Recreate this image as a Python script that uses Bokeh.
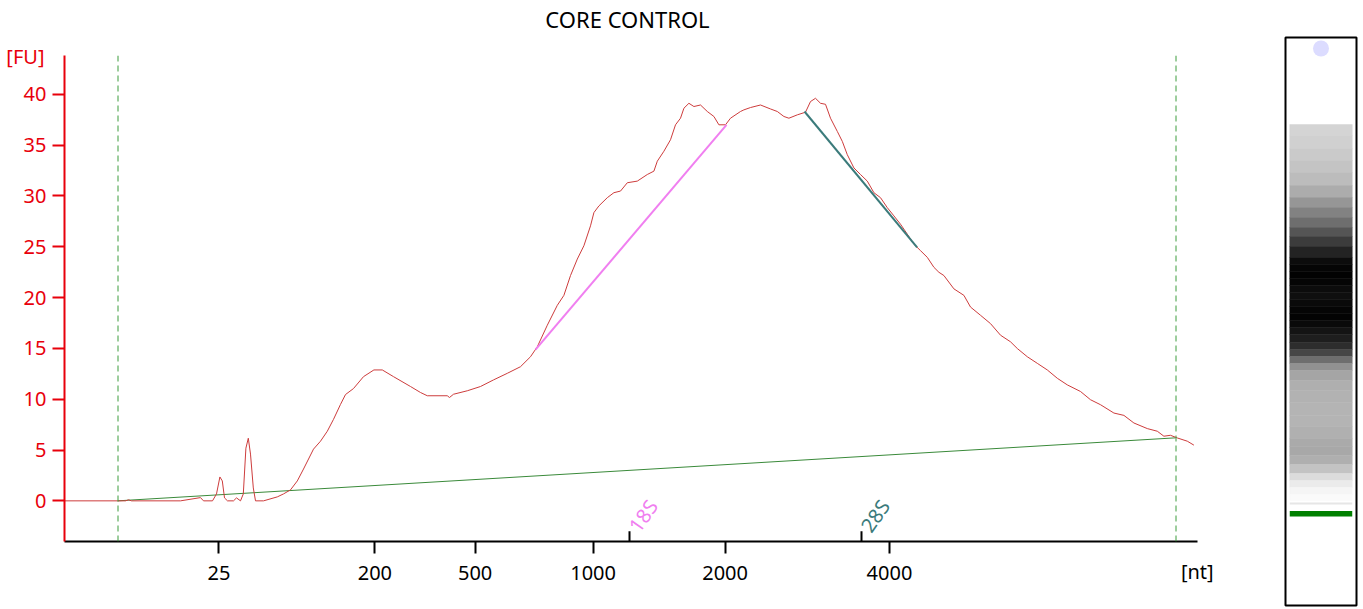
from bokeh.plotting import figure
from bokeh.layouts import row
from bokeh.models import Range1d, FixedTicker, ColumnDataSource, Span, LinearAxis
from bokeh.core.properties import value
from bokeh.embed import file_html
from bokeh.resources import INLINE

# ---------------- data ----------------
title_text = "CORE CONTROL"
y_unit = "[FU]"
x_unit = "[nt]"

# migration time [s] and fluorescence [FU] of the electropherogram trace
time_s = [17.0, 19.65, 20.05, 20.2, 20.35, 22.8, 23.8, 23.95, 24.4, 24.6, 24.77, 24.89, 25.0,
          25.15, 25.45, 25.6, 25.8, 25.94, 26.07, 26.19, 26.3, 26.44, 26.55, 26.95, 27.64,
          27.95, 28.3, 28.64, 28.95, 29.45, 29.8, 30.14, 30.45, 30.8, 31.05, 31.45, 31.95,
          32.47, 32.89, 33.45, 34.3, 34.8, 35.14, 36.14, 36.25, 36.45, 37.14, 37.8, 38.45,
          39.14, 39.8, 40.3, 40.64, 41.14, 41.64, 41.97, 42.3, 42.64, 42.97, 43.3, 43.47,
          43.72, 44.14, 44.47, 44.8, 45.14, 45.64, 46.14, 46.47, 46.64, 46.97, 47.3, 47.55,
          47.8, 47.97, 48.22, 48.47, 48.8, 49.14, 49.47, 49.72, 50.05, 50.3, 50.8, 50.97,
          51.3, 51.8, 52.3, 52.64, 52.97, 53.22, 53.64, 54.05, 54.3, 54.55, 54.8, 55.05,
          55.3, 55.64, 55.89, 56.14, 56.47, 56.8, 57.14, 57.47, 57.8, 58.14, 58.47, 58.8,
          59.14, 59.47, 59.8, 60.14, 60.47, 60.72, 60.97, 61.47, 61.97, 62.3, 62.8, 63.3,
          63.8, 64.3, 64.64, 65.14, 65.64, 66.14, 66.64, 67.14, 67.8, 68.3, 68.8, 69.47,
          69.97, 70.47, 71.14, 71.64, 71.97, 72.3, 72.64, 73.14, 73.47]
fu = [0.0, 0.0, 0.0, 0.1, 0.0, 0.0, 0.32, 0.0, 0.0, 0.68, 2.35, 1.96, 0.29,
      0.0, 0.0, 0.29, 0.0, 0.68, 5.18, 6.16, 4.6, 1.27, 0.0, 0.0, 0.39,
      0.68, 1.08, 1.96, 3.13, 5.09, 5.87, 6.85, 8.02, 9.49, 10.46, 11.05, 12.22,
      12.88, 12.88, 12.22, 11.25, 10.66, 10.34, 10.34, 10.17, 10.49, 10.83, 11.25, 11.9,
      12.55, 13.2, 14.18, 15.16, 17.28, 19.24, 20.22, 22.17, 23.79, 25.1, 27.06, 28.36,
      29.02, 29.83, 30.32, 30.48, 31.3, 31.46, 32.11, 32.44, 33.42, 34.4, 35.53, 37.0,
      37.65, 38.63, 39.12, 38.8, 38.95, 38.31, 37.82, 37.0, 37.0, 37.65, 38.31, 38.47,
      38.7, 38.95, 38.56, 38.31, 37.82, 37.65, 37.98, 38.24, 39.29, 39.61, 39.12, 39.02,
      37.65, 36.35, 35.37, 34.06, 32.76, 32.11, 31.46, 30.32, 29.83, 28.85, 28.04, 27.22,
      26.24, 25.26, 24.62, 23.96, 22.98, 22.49, 22.17, 20.86, 20.22, 19.07, 18.26, 17.44,
      16.3, 15.65, 14.99, 14.18, 13.53, 12.88, 12.06, 11.41, 10.76, 9.95, 9.46, 8.64,
      8.41, 7.66, 7.11, 6.85, 6.36, 6.45, 6.19, 5.87, 5.48]

ladder_nt = ["25", "200", "500", "1000", "2000", "4000"]
ladder_time = [24.72, 32.52, 37.53, 43.43, 50.03, 58.25]
fu_ticks = [0, 5, 10, 15, 20, 25, 30, 35, 40]

marker_names = ["18S", "28S"]
marker_time = [45.25, 56.85]

window_time = [19.675, 72.575]
baseline_time = [19.65, 72.55]
baseline_fu = [0.0, 6.2]
fit18_time = [40.55, 50.1]
fit18_fu = [14.87, 37.0]
fit28_time = [54.0, 59.63]
fit28_fu = [38.31, 24.94]

# gel-like lane: band edges (position from lane top) and grey level of each band
gel_pos = [87, 98, 111, 123, 135, 148, 160, 170, 180, 190, 199, 209, 220, 227, 234, 241, 248,
           255, 262, 269, 276, 283, 290, 297, 305, 312, 319, 326, 333, 343, 353, 365, 378,
           389, 401, 409, 418, 427, 436, 443, 450, 457, 463]
gel_gray = [212, 208, 202, 196, 188, 172, 150, 130, 110, 85, 60, 35, 12, 5, 2, 5, 12,
            15, 10, 5, 3, 10, 20, 30, 45, 70, 110, 145, 165, 175, 178, 180, 180,
            176, 170, 168, 175, 195, 220, 235, 245, 250]
gel_line_pos = [465, 467]
gel_marker_pos = [473.5, 479]
gel_dot_pos = [11]

# ---------------- styles ----------------
FONT = "Noto Sans"
RED = "#e8000b"
TRACE = "#cd3c3c"
PINK = "#f07ff0"
TEAL = "#3b7b7b"
GREEN = "#3a8a3a"
H = 608
X0, X1 = 17.0, 73.65
Y0, Y1 = -4.0, 43.82

p = figure(width=1284, height=H, x_range=Range1d(X0, X1), y_range=Range1d(Y0, Y1),
           output_backend="svg", toolbar_location=None,
           min_border_left=64, min_border_right=87, min_border_top=52, min_border_bottom=H - 52 - 489)
p.outline_line_color = None
p.xgrid.visible = False
p.ygrid.visible = False
if "frame_align" in p.properties():
    p.frame_align = False


def plain_axis(ax, color, size, standoff):
    ax.axis_line_color = None
    ax.major_tick_line_color = None
    ax.minor_tick_line_color = None
    ax.major_tick_out = 0
    ax.major_tick_in = 0
    ax.major_label_standoff = standoff
    ax.major_label_text_font = FONT
    ax.major_label_text_font_size = size
    ax.major_label_text_color = color


# main axes
p.xaxis.ticker = FixedTicker(ticks=ladder_time)
p.xaxis.major_label_overrides = {t: s for t, s in zip(ladder_time, ladder_nt)}
p.xaxis.axis_line_color = "black"
p.xaxis.axis_line_width = 2
p.xaxis.major_tick_line_width = 2
p.xaxis.major_tick_line_color = "black"
p.xaxis.major_tick_out = 12
p.xaxis.major_tick_in = 0
p.xaxis.minor_tick_line_color = None
p.xaxis.major_label_standoff = 12
p.xaxis.major_label_text_font = FONT
p.xaxis.major_label_text_font_size = "20px"
p.xaxis.major_label_text_color = "black"

p.yaxis.ticker = FixedTicker(ticks=fu_ticks)
p.yaxis.axis_line_color = RED
p.yaxis.axis_line_width = 2
p.yaxis.major_tick_line_color = RED
p.yaxis.major_tick_line_width = 2
p.yaxis.major_tick_out = 12
p.yaxis.major_tick_in = 0
p.yaxis.minor_tick_line_color = None
p.yaxis.major_label_standoff = 6
p.yaxis.major_label_text_font = FONT
p.yaxis.major_label_text_font_size = "20px"
p.yaxis.major_label_text_color = RED

# title, written as a label of an axis above the frame
t_pos = 45.15
title_axis = LinearAxis(ticker=FixedTicker(ticks=[t_pos]),
                        major_label_overrides={t_pos: title_text})
plain_axis(title_axis, "black", "22px", 22)
p.add_layout(title_axis, "above")

# unit labels
fu_pos = 43.69
fu_axis = LinearAxis(ticker=FixedTicker(ticks=[fu_pos]), major_label_overrides={fu_pos: y_unit})
plain_axis(fu_axis, RED, "20px", -24)
p.add_layout(fu_axis, "left")

nt_pos = 73.64
nt_axis = LinearAxis(ticker=FixedTicker(ticks=[nt_pos]), major_label_overrides={nt_pos: x_unit})
plain_axis(nt_axis, "black", "20px", -25)
p.add_layout(nt_axis, "below")

# analysis window
for t in window_time:
    p.add_layout(Span(location=t, dimension="height", line_color="#3c9c3c",
                      line_width=1, line_dash="6 4"))

# baseline
p.line(baseline_time, baseline_fu, line_color=GREEN, line_width=1)
# trace
p.line(time_s, fu, line_color=TRACE, line_width=1)
# ratio fit lines
p.line(fit18_time, fit18_fu, line_color=PINK, line_width=2)
p.line(fit28_time, fit28_fu, line_color=TEAL, line_width=2)

# 18S / 28S markers
msrc = ColumnDataSource(dict(x=marker_time, name=marker_names, color=[PINK, TEAL]))
p.segment(x0="x", y0=Y0, x1="x", y1=Y0 + 1.0, source=msrc, line_color="black", line_width=2)
p.text(x="x", y=Y0, text="name", source=msrc, text_color="color", angle=55, angle_units="deg",
       text_font=value(FONT), text_font_size=value("20px"), text_align="left",
       text_baseline="bottom", x_offset=15, y_offset=-4)

# ---------------- gel lane ----------------
g = figure(width=1363 - 1284, height=H, x_range=Range1d(0, 1), y_range=Range1d(H - 37 - 3, 0),
           output_backend="svg", toolbar_location=None,
           x_axis_location=None, y_axis_location=None,
           min_border_left=1, min_border_right=7, min_border_top=37, min_border_bottom=3)
g.xgrid.visible = False
g.ygrid.visible = False
g.outline_line_color = "black"
g.outline_line_width = 2
if "frame_align" in g.properties():
    g.frame_align = False

gcols = ["#%02x%02x%02x" % (v, v, v) for v in gel_gray]
g.quad(left=0.06, right=0.94, top=gel_pos[:-1], bottom=gel_pos[1:], fill_color=gcols,
       line_color=gcols, line_width=0.5)
g.quad(left=0.06, right=0.94, top=[gel_line_pos[0]], bottom=[gel_line_pos[1]],
       fill_color="#e6e6e6", line_color=None)
g.quad(left=0.06, right=0.94, top=[gel_marker_pos[0]], bottom=[gel_marker_pos[1]],
       fill_color="#008000", line_color=None)
g.scatter(x=[0.5], y=gel_dot_pos, size=16, marker="circle", fill_color="#dcdcff", line_color=None)

layout = row(p, g)
open("out.html", "w").write(file_html(layout, INLINE))
